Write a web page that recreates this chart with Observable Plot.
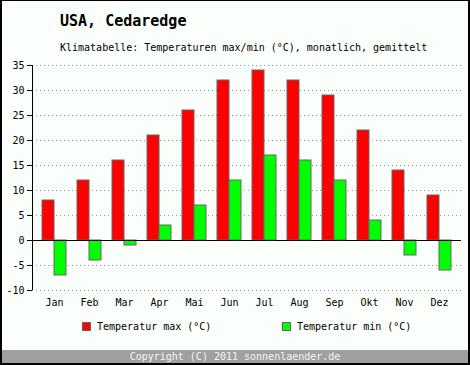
<!DOCTYPE html>
<html>
<head>
<meta charset="utf-8">
<script src="https://cdn.jsdelivr.net/npm/d3@7"></script>
<script src="https://cdn.jsdelivr.net/npm/@observablehq/plot@0.6"></script>
<style>
  html, body { margin: 0; padding: 0; background: #fff; }
  #wrap { position: relative; width: 470px; height: 365px; background: #fbfffb; overflow: hidden;
          font-family: "DejaVu Sans Mono", monospace; }
  #wrap svg { position: absolute; left: 0; top: 0; background: transparent; }
  .t { position: absolute; white-space: pre; line-height: 1; color: #000; }
  #border { position: absolute; left: 0; top: 0; width: 470px; height: 365px; box-sizing: border-box;
            border-style: solid; border-color: #000; border-width: 1px 2px 2px 2px; pointer-events: none; }
  #footer { position: absolute; left: 0; top: 350px; width: 470px; height: 15px; background: #a0a0a0; }
  .sw { position: absolute; width: 7px; height: 7px; border: 1px solid #666; }
</style>
</head>
<body>
<div id="wrap">
  <div id="footer"></div>
  <div class="t" style="left:60px; top:14px; font-size:15px; font-weight:bold;">USA, Cedaredge</div>
  <div class="t" style="left:60px; top:42.5px; font-size:10px;">Klimatabelle: Temperaturen max/min (°C), monatlich, gemittelt</div>
  <div class="sw" style="left:82px; top:322px; background:#ff0000;"></div>
  <div class="t" style="left:97px; top:321.5px; font-size:10px;">Temperatur max (°C)</div>
  <div class="sw" style="left:282px; top:322px; background:#00ff00;"></div>
  <div class="t" style="left:297px; top:321.5px; font-size:10px;">Temperatur min (°C)</div>
  <div class="t" style="left:0; width:470px; text-align:center; top:351.5px; font-size:10px; color:#f4f4f4;">Copyright (C) 2011 sonnenlaender.de</div>
  <div id="border"></div>
</div>
<script>
const months = ["Jan","Feb","Mar","Apr","Mai","Jun","Jul","Aug","Sep","Okt","Nov","Dez"];
const tempMax = [8, 12, 16, 21, 26, 32, 34, 32, 29, 22, 14, 9];
const tempMin = [-7, -4, -1, 3, 7, 12, 17, 16, 12, 4, -3, -6];
const yTicks = [-10, -5, 0, 5, 10, 15, 20, 25, 30, 35];

const idx = months.map((m, i) => i);
const bw = 12 / 35;
const xLo = -0.629, xHi = 11.629;

const chart = Plot.plot({
  width: 470,
  height: 365,
  marginTop: 65,
  marginBottom: 75,
  marginLeft: 32,
  marginRight: 9,
  style: { fontFamily: "DejaVu Sans Mono, monospace", fontSize: "10px", background: "transparent", color: "#000" },
  x: { type: "linear", domain: [xLo, xHi] },
  y: { domain: [-10, 35] },
  marks: [
    Plot.ruleY(yTicks.filter(d => d !== 0), { x1: xLo, x2: xHi, stroke: "#999", strokeDasharray: "1,3", strokeWidth: 1 }),
    Plot.rect(idx, { x1: i => i - bw, x2: i => i, y1: 0, y2: i => tempMax[i], fill: "#ff0000", stroke: "#666", strokeWidth: 1 }),
    Plot.rect(idx, { x1: i => i, x2: i => i + bw, y1: 0, y2: i => tempMin[i], fill: "#00ff00", stroke: "#666", strokeWidth: 1 }),
    Plot.ruleY([0], { x1: xLo, x2: xHi, stroke: "#000", strokeWidth: 1 }),
    Plot.ruleX([xLo], { y1: -10, y2: 35, stroke: "#000", strokeWidth: 1 }),
    Plot.axisY({ ticks: yTicks, tickSize: 5, tickPadding: 3, label: null, tickFormat: d => String(d).replace("-", "-"), stroke: "#000" }),
    Plot.axisX({ ticks: idx, tickSize: 0, tickPadding: 8, label: null, tickFormat: i => months[i] })
  ]
});
document.getElementById("wrap").insertBefore(chart, document.getElementById("footer"));
</script>
</body>
</html>
